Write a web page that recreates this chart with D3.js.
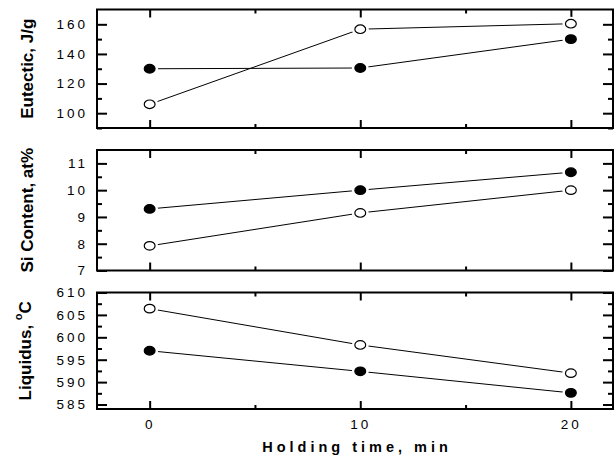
<!DOCTYPE html>
<html>
<head>
<meta charset="utf-8">
<script src="https://cdn.jsdelivr.net/npm/d3@7"></script>
<style>
  body { margin: 0; background: #fff; }
  svg { display: block; font-family: Arial, "Liberation Sans", sans-serif; }
</style>
</head>
<body>
<svg id="chart" width="616" height="461"></svg>
<script>
// holding time (min)
var times = [0, 10, 20];
var xMajorTicks = [0, 10, 20];
var xMinorTicks = [5, 15];

// eutectic, J/g
var eutecticFilled = [130, 130.5, 150];
var eutecticOpen = [106, 156.7, 160.4];
var eutecticTicks = [100, 120, 140, 160];
var eutecticMinor = [90, 110, 130, 150, 170];

// Si content, at%
var siFilled = [9.3, 10.0, 10.67];
var siOpen = [7.92, 9.15, 10.0];
var siTicks = [7, 8, 9, 10, 11];
var siMinor = [7.5, 8.5, 9.5, 10.5, 11.5];

// liquidus, C
var liquidusFilled = [597.0, 592.4, 587.6];
var liquidusOpen = [606.4, 598.3, 592.0];
var liquidusTicks = [585, 590, 595, 600, 605, 610];
var liquidusMinor = [587.5, 592.5, 597.5, 602.5, 607.5];

var svg = d3.select('#chart');
var xLeft = 97, xRight = 613;

var xScale = d3.scaleLinear()
    .domain([-2.5, 22])
    .range([xLeft, xRight]);

var panels = [
    {top: 9.5, bottom: 128, domain: [90, 170], major: eutecticTicks, minor: eutecticMinor,
     filled: eutecticFilled, open: eutecticOpen, title: 'Eutectic, J/g', titleX: 27},
    {top: 150, bottom: 270.5, domain: [7, 11.5], major: siTicks, minor: siMinor,
     filled: siFilled, open: siOpen, title: 'Si Content, at%', titleX: 27},
    {top: 292.5, bottom: 409, domain: [584, 610], major: liquidusTicks, minor: liquidusMinor,
     filled: liquidusFilled, open: liquidusOpen, title: 'Liquidus, ', titleX: 25, degree: true}
];

function styleAxis(g) {
    g.select('.domain').remove();
    g.selectAll('line').attr('stroke', '#000').attr('stroke-width', 2);
    g.selectAll('text')
        .attr('fill', '#000')
        .style('font-size', '13.5px')
        .style('letter-spacing', '3px');
}

panels.forEach(function(p, i) {
    var yScale = d3.scaleLinear()
        .domain(p.domain)
        .range([p.bottom, p.top]);
    var minor = p.minor.filter(v => v < p.domain[1]);

    var chart = svg.append('g');

    // left ticks + labels
    chart.append('g')
        .attr('transform', `translate(${xLeft},0)`)
        .call(d3.axisLeft(yScale).tickValues(p.major).tickFormat(d => String(d))
            .tickSizeInner(-10).tickSizeOuter(0).tickPadding(9))
        .call(styleAxis);
    chart.append('g')
        .attr('transform', `translate(${xLeft},0)`)
        .call(d3.axisLeft(yScale).tickValues(minor).tickSizeInner(-5).tickSizeOuter(0).tickFormat(''))
        .call(styleAxis);

    // right ticks
    chart.append('g')
        .attr('transform', `translate(${xRight},0)`)
        .call(d3.axisRight(yScale).tickValues(p.major).tickSizeInner(-10).tickSizeOuter(0).tickFormat(''))
        .call(styleAxis);
    chart.append('g')
        .attr('transform', `translate(${xRight},0)`)
        .call(d3.axisRight(yScale).tickValues(minor).tickSizeInner(-5).tickSizeOuter(0).tickFormat(''))
        .call(styleAxis);

    // bottom ticks (labels only on the last panel)
    var bottomAxis = d3.axisBottom(xScale).tickValues(xMajorTicks).tickSizeInner(-8).tickSizeOuter(0).tickPadding(10);
    if (i < panels.length - 1) bottomAxis.tickFormat('');
    chart.append('g')
        .attr('transform', `translate(0,${p.bottom})`)
        .call(bottomAxis)
        .call(styleAxis);
    chart.append('g')
        .attr('transform', `translate(0,${p.bottom})`)
        .call(d3.axisBottom(xScale).tickValues(xMinorTicks).tickSizeInner(-4).tickSizeOuter(0).tickFormat(''))
        .call(styleAxis);

    // top ticks
    chart.append('g')
        .attr('transform', `translate(0,${p.top})`)
        .call(d3.axisTop(xScale).tickValues(xMajorTicks).tickSizeInner(-8).tickSizeOuter(0).tickFormat(''))
        .call(styleAxis);
    chart.append('g')
        .attr('transform', `translate(0,${p.top})`)
        .call(d3.axisTop(xScale).tickValues(xMinorTicks).tickSizeInner(-4).tickSizeOuter(0).tickFormat(''))
        .call(styleAxis);

    // frame
    chart.append('rect')
        .attr('x', xLeft)
        .attr('y', p.top)
        .attr('width', xRight - xLeft)
        .attr('height', p.bottom - p.top)
        .attr('fill', 'none')
        .attr('stroke', '#000')
        .attr('stroke-width', 2);

    // lines
    var line = d3.line()
        .x(function(d, k) { return xScale(times[k]); })
        .y(function(d) { return yScale(d); });

    [p.filled, p.open].forEach(function(series) {
        chart.append('path')
            .datum(series)
            .attr('d', line)
            .attr('fill', 'none')
            .attr('stroke', '#000')
            .attr('stroke-width', 1);
    });

    // markers with a small white gap around them
    [{data: p.filled, fill: '#000'}, {data: p.open, fill: '#fff'}].forEach(function(s) {
        chart.selectAll(null)
            .data(s.data)
            .enter()
            .append('ellipse')
            .attr('cx', (d, k) => xScale(times[k]))
            .attr('cy', d => yScale(d))
            .attr('rx', 8.5)
            .attr('ry', 7)
            .attr('fill', '#fff');
        chart.selectAll(null)
            .data(s.data)
            .enter()
            .append('ellipse')
            .attr('cx', (d, k) => xScale(times[k]))
            .attr('cy', d => yScale(d))
            .attr('rx', 5.4)
            .attr('ry', 4.3)
            .attr('fill', s.fill)
            .attr('stroke', '#000')
            .attr('stroke-width', 1.2);
    });

    // y title
    var cy = (p.top + p.bottom) / 2;
    var title = svg.append('text')
        .attr('transform', `translate(${p.titleX},${cy}) rotate(-90)`)
        .attr('text-anchor', 'middle')
        .attr('dominant-baseline', 'central')
        .style('font-size', '17px')
        .style('font-weight', 'bold')
        .attr('fill', '#000');
    title.append('tspan').text(p.title);
    if (p.degree) {
        title.append('tspan').text('o').style('font-size', '11px').attr('dy', -7);
        title.append('tspan').text('C').attr('dy', 7);
    }
});

// x title
svg.append('text')
    .attr('x', 357)
    .attr('y', 452)
    .attr('text-anchor', 'middle')
    .style('font-size', '14.5px')
    .style('font-weight', 'bold')
    .style('letter-spacing', '4px')
    .attr('fill', '#000')
    .text('Holding time, min');
</script>
</body>
</html>
